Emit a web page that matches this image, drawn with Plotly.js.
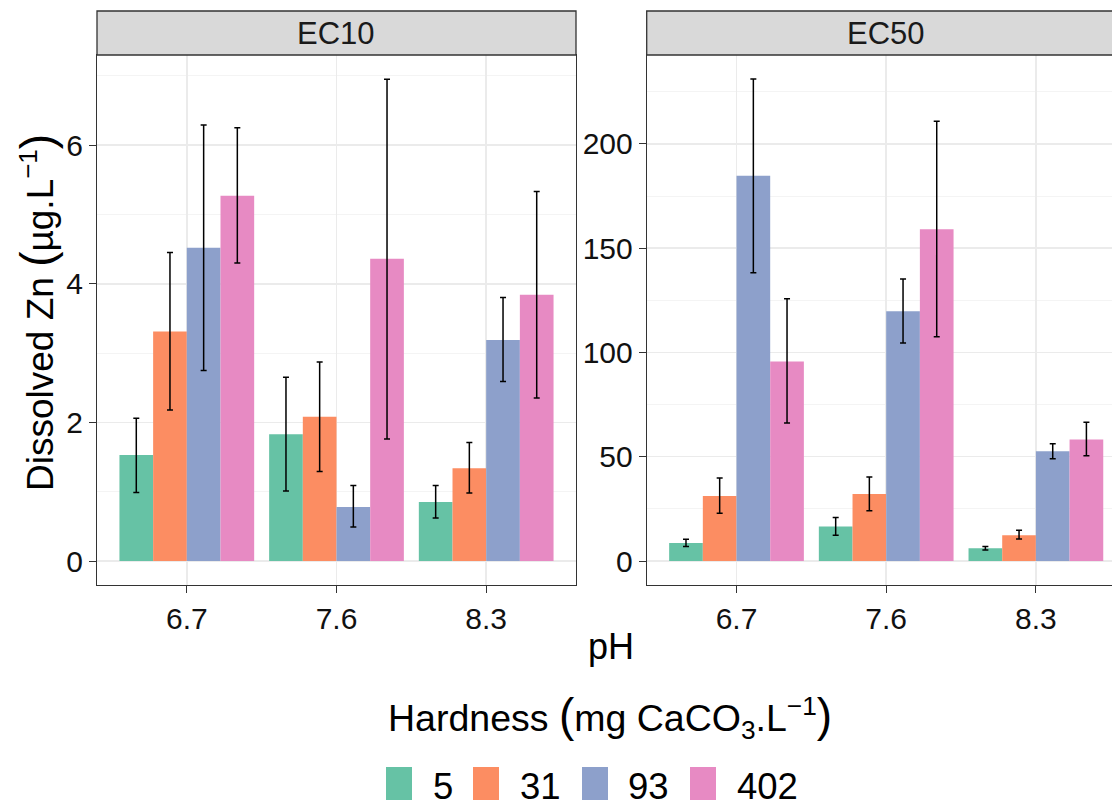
<!DOCTYPE html>
<html>
<head>
<meta charset="utf-8">
<script src="https://cdn.plot.ly/plotly-3.0.1.min.js"></script>
<style>
html, body { margin: 0; padding: 0; overflow: hidden; background: #fff; }
#plot { width: 1140px; height: 800px; }
</style>
</head>
<body>
<div id="plot"></div>
<script>
// ---- data ----
const phLevels = ["6.7", "7.6", "8.3"];
const hardnessLevels = ["5", "31", "93", "402"];
const facetNames = ["EC10", "EC50"];
const seriesColors = ["#66C2A5", "#FC8D62", "#8DA0CB", "#E78AC3"];

// EC10 (rows = hardness 5, 31, 93, 402; columns = pH 6.7, 7.6, 8.3)
const ec10Mean  = [[1.53, 1.83, 0.85], [3.31, 2.08, 1.34], [4.52, 0.78, 3.19], [5.27, 4.36, 3.84]];
const ec10Lower = [[0.99, 1.01, 0.62], [2.18, 1.29, 0.98], [2.75, 0.49, 2.59], [4.30, 1.76, 2.35]];
const ec10Upper = [[2.06, 2.65, 1.09], [4.45, 2.87, 1.71], [6.29, 1.09, 3.80], [6.25, 6.95, 5.33]];

// EC50
const ec50Mean  = [[8.6, 16.6, 6.1], [31.2, 32.1, 12.3], [184.7, 119.7, 52.6], [95.7, 159.0, 58.3]];
const ec50Lower = [[6.9, 12.3, 5.3], [22.9, 24.1, 10.5], [138.2, 104.5, 49.0], [66.2, 107.5, 50.5]];
const ec50Upper = [[10.4, 20.9, 7.0], [39.8, 40.3, 14.7], [231.1, 135.2, 56.2], [125.7, 210.8, 66.5]];

// ---- layout helpers ----
const W = 1140, H = 800;
const px = x => x / W;
const py = y => 1 - y / H;
const FONT = "Liberation Sans, Arial, Helvetica, sans-serif";

const traces = [];
function addFacet(mean, lower, upper, xa, ya) {
  hardnessLevels.forEach((h, i) => {
    traces.push({
      type: "bar",
      x: phLevels,
      y: mean[i],
      name: h,
      xaxis: xa,
      yaxis: ya,
      showlegend: false,
      marker: { color: seriesColors[i], line: { width: 0 } },
      error_y: {
        type: "data",
        symmetric: false,
        array: mean[i].map((m, j) => upper[i][j] - m),
        arrayminus: mean[i].map((m, j) => m - lower[i][j]),
        color: "#000000",
        thickness: 1.5,
        width: 3
      },
      hoverinfo: "skip"
    });
  });
}
addFacet(ec10Mean, ec10Lower, ec10Upper, "x", "y");
addFacet(ec50Mean, ec50Lower, ec50Upper, "x2", "y2");

const panelTop = 55, panelBottom = 585;
const leftX = [97, 576], rightX = [646.7, 1125.7];

function xAxis(dom, anchor) {
  return {
    domain: [px(dom[0]), px(dom[1])],
    anchor: anchor,
    type: "category",
    range: [-0.6, 2.6],
    showgrid: true, gridcolor: "#EBEBEB", gridwidth: 1.5,
    showline: true, linecolor: "#333333", linewidth: 1, mirror: true,
    ticks: "outside", ticklen: 7, tickcolor: "#333333", tickwidth: 1,
    tickfont: { family: FONT, size: 30, color: "#111111" },
    zeroline: false, fixedrange: true
  };
}
function yAxis(range, dtick, minorDtick, anchor) {
  return {
    domain: [py(panelBottom), py(panelTop)],
    anchor: anchor,
    range: range,
    dtick: dtick,
    tick0: 0,
    showgrid: true, gridcolor: "#EBEBEB", gridwidth: 1.5,
    minor: { dtick: minorDtick, tick0: 0, showgrid: true, gridcolor: "#F4F4F4", gridwidth: 1, ticks: "" },
    showline: true, linecolor: "#333333", linewidth: 1, mirror: true,
    ticks: "outside", ticklen: 7, tickcolor: "#333333", tickwidth: 1,
    tickfont: { family: FONT, size: 30, color: "#111111" },
    zeroline: false, fixedrange: true
  };
}

const shapes = [];
const annotations = [];
// facet strips
[leftX, rightX].forEach((xr, k) => {
  shapes.push({
    type: "rect", xref: "paper", yref: "paper",
    x0: px(xr[0]), x1: px(xr[1]), y0: py(panelTop), y1: py(11),
    fillcolor: "#D9D9D9", line: { color: "#333333", width: 1.3 }, layer: "above"
  });
  annotations.push({
    xref: "paper", yref: "paper",
    x: px((xr[0] + xr[1]) / 2), y: py(33),
    xanchor: "center", yanchor: "middle",
    text: facetNames[k], showarrow: false,
    font: { family: FONT, size: 31, color: "#1A1A1A" }
  });
});

const bigParen = s => '<span style="font-size:46px">' + s + '</span>';

// axis titles
annotations.push({
  xref: "paper", yref: "paper", x: px(611), y: py(646),
  xanchor: "center", yanchor: "middle", showarrow: false,
  text: "pH", font: { family: FONT, size: 36, color: "#000" }
});
annotations.push({
  xref: "paper", yref: "paper", x: px(37), y: py(313),
  xanchor: "center", yanchor: "middle", showarrow: false, textangle: -90,
  text: "Dissolved Zn " + bigParen("(") + "µg.L<sup>−1</sup>" + bigParen(")"),
  font: { family: FONT, size: 37, color: "#000" }
});

// legend (drawn manually)
annotations.push({
  xref: "paper", yref: "paper", x: px(610), y: py(717),
  xanchor: "center", yanchor: "middle", showarrow: false,
  text: "Hardness " + bigParen("(") + "mg CaCO<sub>3</sub>.L<sup>−1</sup>" + bigParen(")"),
  font: { family: FONT, size: 37.5, color: "#000" }
});
const keyX = [386, 473, 582, 690];
const labelX = [433, 520, 628, 737];
hardnessLevels.forEach((h, i) => {
  shapes.push({
    type: "rect", xref: "paper", yref: "paper",
    x0: px(keyX[i]), x1: px(keyX[i] + 26), y0: py(815), y1: py(767),
    fillcolor: seriesColors[i], line: { width: 0 }
  });
  annotations.push({
    xref: "paper", yref: "paper", x: px(labelX[i] - 2), y: py(786),
    xanchor: "left", yanchor: "middle", showarrow: false,
    text: h, font: { family: FONT, size: 36.5, color: "#000" }
  });
});

const layout = {
  width: W, height: H,
  margin: { l: 0, r: 0, t: 0, b: 0 },
  paper_bgcolor: "#ffffff", plot_bgcolor: "#ffffff",
  barmode: "group", bargap: 0.1, bargroupgap: 0,
  showlegend: false,
  font: { family: FONT },
  xaxis: xAxis(leftX, "y"),
  yaxis: yAxis([-0.346, 7.30], 2, 1, "x"),
  xaxis2: xAxis(rightX, "y2"),
  yaxis2: yAxis([-11.5, 242.6], 50, 25, "x2"),
  shapes: shapes,
  annotations: annotations
};

Plotly.newPlot("plot", traces, layout, { displayModeBar: false, staticPlot: true });
</script>
</body>
</html>
